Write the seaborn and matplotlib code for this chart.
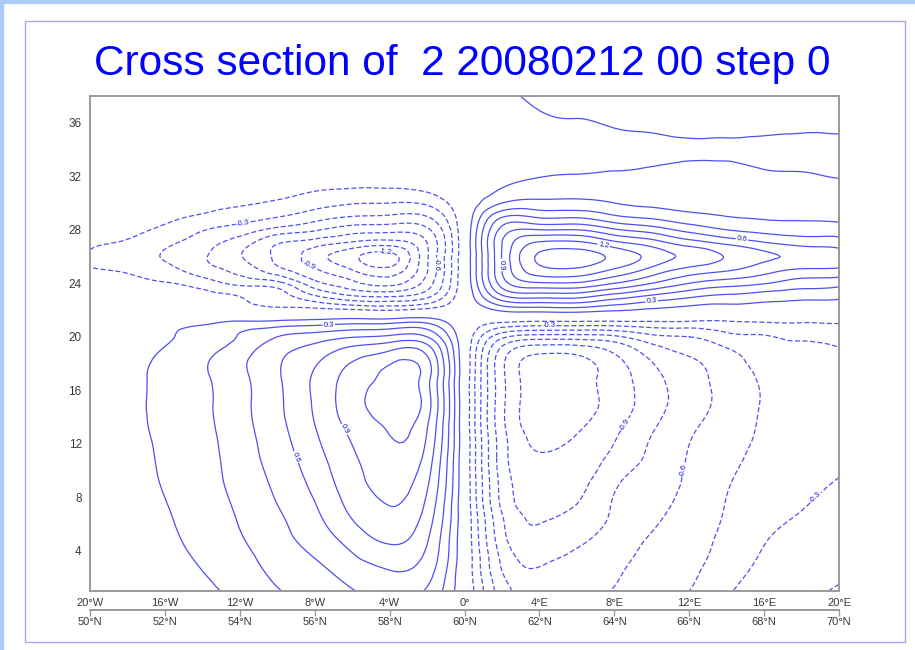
import numpy as np
import matplotlib
matplotlib.use("Agg")
import matplotlib.pyplot as plt
import matplotlib.tri as mtri
import seaborn as sns
from matplotlib.patches import Rectangle

# grid of the cross section: longitude along the section, model level upwards
lon = [-20, -18, -16, -14, -12, -10, -8, -6, -4, -2, 0, 2, 4, 6, 8, 10, 12, 14, 16, 18, 20]
level = [1, 3, 5, 7, 9, 11, 13, 15, 17, 19, 20, 21, 22, 23, 24, 25, 26, 27, 28, 29, 30, 31, 32, 34, 36, 38]

# field values, one row per level (bottom to top)
field = [
    [0.01, 0.03, 0.06, 0.12, 0.19, 0.29, 0.36, 0.44, 0.52, 0.43, 0.00, -0.53, -0.64, -0.64, -0.59, -0.50, -0.45, -0.32, -0.24, -0.18, -0.14],
    [0.02, 0.05, 0.09, 0.16, 0.24, 0.35, 0.43, 0.55, 0.63, 0.54, 0.00, -0.62, -0.76, -0.70, -0.64, -0.54, -0.49, -0.37, -0.28, -0.22, -0.18],
    [0.03, 0.07, 0.12, 0.20, 0.29, 0.40, 0.52, 0.67, 0.79, 0.62, 0.00, -0.70, -0.87, -0.79, -0.69, -0.59, -0.52, -0.41, -0.31, -0.26, -0.22],
    [0.04, 0.08, 0.14, 0.22, 0.32, 0.44, 0.58, 0.78, 0.89, 0.70, 0.00, -0.76, -0.93, -0.88, -0.73, -0.63, -0.55, -0.44, -0.35, -0.30, -0.26],
    [0.04, 0.09, 0.16, 0.24, 0.35, 0.48, 0.64, 0.84, 0.95, 0.77, 0.00, -0.80, -0.98, -0.95, -0.77, -0.68, -0.57, -0.46, -0.38, -0.33, -0.29],
    [0.05, 0.10, 0.17, 0.25, 0.37, 0.52, 0.69, 0.88, 1.00, 0.84, 0.00, -0.83, -1.04, -1.00, -0.86, -0.72, -0.59, -0.49, -0.41, -0.36, -0.33],
    [0.05, 0.11, 0.18, 0.26, 0.39, 0.55, 0.74, 0.93, 1.06, 0.90, 0.00, -0.85, -1.10, -1.06, -0.93, -0.76, -0.62, -0.52, -0.43, -0.38, -0.35],
    [0.05, 0.11, 0.19, 0.27, 0.40, 0.57, 0.77, 0.99, 1.14, 0.97, 0.00, -0.86, -1.13, -1.11, -0.99, -0.82, -0.67, -0.55, -0.44, -0.40, -0.37],
    [0.05, 0.11, 0.19, 0.28, 0.41, 0.58, 0.77, 0.96, 1.10, 0.96, 0.00, -0.86, -1.13, -1.11, -0.98, -0.80, -0.66, -0.54, -0.43, -0.39, -0.36],
    [0.05, 0.10, 0.16, 0.25, 0.38, 0.55, 0.66, 0.80, 0.89, 0.84, 0.00, -0.80, -1.00, -0.99, -0.87, -0.67, -0.57, -0.47, -0.36, -0.34, -0.31],
    [0.04, 0.08, 0.13, 0.20, 0.31, 0.45, 0.52, 0.59, 0.63, 0.60, 0.00, -0.56, -0.67, -0.67, -0.63, -0.49, -0.45, -0.34, -0.31, -0.28, -0.26],
    [0.02, 0.04, 0.08, 0.13, 0.20, 0.22, 0.25, 0.29, 0.30, 0.31, 0.00, -0.18, -0.22, -0.22, -0.22, -0.20, -0.20, -0.19, -0.17, -0.16, -0.15],
    [-0.03, -0.04, -0.05, -0.06, -0.08, -0.10, -0.10, -0.13, -0.16, -0.10, 0.00, 0.18, 0.21, 0.22, 0.17, 0.12, 0.08, 0.06, 0.05, 0.04, 0.04],
    [-0.05, -0.07, -0.09, -0.10, -0.15, -0.22, -0.42, -0.57, -0.60, -0.48, 0.00, 0.56, 0.64, 0.64, 0.52, 0.41, 0.32, 0.26, 0.22, 0.19, 0.18],
    [-0.08, -0.11, -0.14, -0.22, -0.34, -0.40, -0.70, -0.86, -0.95, -0.68, 0.00, 0.82, 1.03, 1.03, 0.90, 0.75, 0.60, 0.52, 0.46, 0.38, 0.35],
    [-0.14, -0.17, -0.25, -0.38, -0.50, -0.70, -0.88, -1.05, -1.15, -0.76, 0.00, 0.90, 1.30, 1.32, 1.18, 1.00, 0.85, 0.77, 0.66, 0.58, 0.57],
    [-0.16, -0.23, -0.31, -0.43, -0.59, -0.78, -0.98, -1.16, -1.26, -0.77, 0.00, 0.91, 1.37, 1.42, 1.31, 1.15, 1.01, 0.89, 0.78, 0.72, 0.67],
    [-0.13, -0.17, -0.27, -0.38, -0.53, -0.74, -0.83, -0.93, -0.98, -0.75, 0.00, 0.90, 1.23, 1.24, 1.10, 0.98, 0.83, 0.72, 0.62, 0.55, 0.53],
    [-0.09, -0.12, -0.18, -0.29, -0.37, -0.50, -0.58, -0.68, -0.70, -0.63, 0.00, 0.80, 0.90, 0.90, 0.77, 0.68, 0.55, 0.45, 0.40, 0.38, 0.37],
    [-0.06, -0.08, -0.12, -0.17, -0.23, -0.29, -0.38, -0.45, -0.47, -0.45, 0.00, 0.58, 0.57, 0.57, 0.47, 0.41, 0.34, 0.30, 0.28, 0.27, 0.26],
    [-0.04, -0.06, -0.08, -0.10, -0.13, -0.17, -0.24, -0.29, -0.30, -0.27, 0.00, 0.30, 0.34, 0.34, 0.30, 0.27, 0.25, 0.24, 0.23, 0.22, 0.21],
    [-0.03, -0.04, -0.05, -0.06, -0.08, -0.10, -0.14, -0.16, -0.16, -0.13, 0.00, 0.16, 0.22, 0.24, 0.22, 0.21, 0.20, 0.20, 0.19, 0.18, 0.17],
    [-0.02, -0.03, -0.03, -0.04, -0.05, -0.07, -0.09, -0.10, -0.10, -0.08, 0.00, 0.10, 0.145, 0.16, 0.165, 0.17, 0.17, 0.17, 0.16, 0.155, 0.148],
    [-0.01, -0.02, -0.02, -0.02, -0.03, -0.04, -0.05, -0.05, -0.05, -0.04, 0.01, 0.08, 0.12, 0.13, 0.135, 0.14, 0.145, 0.145, 0.14, 0.14, 0.14],
    [-0.01, -0.01, -0.01, -0.01, -0.02, -0.02, -0.03, -0.03, -0.03, -0.02, 0.02, 0.09, 0.14, 0.147, 0.155, 0.16, 0.165, 0.165, 0.165, 0.16, 0.16],
    [0.00, 0.00, -0.01, -0.01, -0.01, -0.01, -0.02, -0.02, -0.02, -0.01, 0.05, 0.12, 0.17, 0.18, 0.19, 0.19, 0.19, 0.19, 0.19, 0.18, 0.18],
]

neg_levels = [-1.35, -1.2, -1.05, -0.9, -0.75, -0.6, -0.45, -0.3, -0.15]
pos_levels = [0.15, 0.3, 0.45, 0.6, 0.75, 0.9, 1.05, 1.2, 1.35]
labelled_levels = [-1.2, -0.9, -0.6, -0.3, 0.3, 0.6, 0.9, 1.2]

lon_ticks = [-20, -16, -12, -8, -4, 0, 4, 8, 12, 16, 20]
lon_labels = ["20°W", "16°W", "12°W", "8°W", "4°W", "0°", "4°E", "8°E", "12°E", "16°E", "20°E"]
lat_ticks = [50, 52, 54, 56, 58, 60, 62, 64, 66, 68, 70]
lat_labels = ["50°N", "52°N", "54°N", "56°N", "58°N", "60°N", "62°N", "64°N", "66°N", "68°N", "70°N"]
level_ticks = [4, 8, 12, 16, 20, 24, 28, 32, 36]

title = "Cross section of  2 20080212 00 step 0"

sns.set_style("white")
plt.rcParams["font.family"] = ["Liberation Sans", "DejaVu Sans"]

line_colour = "#4f4ff2"
axis_grey = "#9a9a9a"
text_grey = "#3a3a3a"

fig = plt.figure(figsize=(9.15, 6.5), dpi=100)

# page decorations: light blue band top/left and thin frame
fig.patches.append(Rectangle((0, 0.9954), 1, 0.0046, transform=fig.transFigure,
                             color="#a9cdf6", zorder=0))
fig.patches.append(Rectangle((0, 0), 0.0033, 1, transform=fig.transFigure,
                             color="#a9cdf6", zorder=0))
fig.patches.append(Rectangle((0.0273, 0.0123), 0.9617, 0.9554, transform=fig.transFigure,
                             fill=False, edgecolor="#a8a8f0", linewidth=1.0, zorder=0))

ax = fig.add_axes([0.0984, 0.0908, 0.8186, 0.7615])

X, Y = np.meshgrid(lon, level)
Z = np.array(field)

# smooth isolines: let matplotlib refine the triangulated grid for drawing
triang = mtri.Triangulation(X.ravel(), Y.ravel())
interp = mtri.CubicTriInterpolator(triang, Z.ravel(), kind="min_E")
refiner = mtri.UniformTriRefiner(triang)
tri_fine, z_fine = refiner.refine_field(Z.ravel(), triinterpolator=interp, subdiv=3)

cs_neg = ax.tricontour(tri_fine, z_fine, levels=neg_levels, colors=line_colour,
                       linewidths=0.9, linestyles=[(0, (4, 2))])
cs_pos = ax.tricontour(tri_fine, z_fine, levels=pos_levels, colors=line_colour,
                       linewidths=0.9, linestyles="solid")

for cs in (cs_neg, cs_pos):
    lv = [l for l in labelled_levels if l in list(cs.levels)]
    ax.clabel(cs, levels=lv, fmt="%.1f", fontsize=5.5, inline=True,
              inline_spacing=1, colors="#1010d0")

ax.set_xlim(-20, 20)
ax.set_ylim(1, 38)
ax.set_xticks(lon_ticks, labels=lon_labels)
ax.set_yticks(level_ticks)
ax.tick_params(axis="both", direction="out", length=4, width=1, color=axis_grey,
               labelsize=8, labelcolor=text_grey, pad=2)
ax.tick_params(axis="x", pad=1)
ax.tick_params(axis="y", labelsize=8.5)
for side in ax.spines.values():
    side.set_color(axis_grey)
    side.set_linewidth(1.4)

# second row of labels: latitude along the section
sec = ax.secondary_xaxis(-0.038, functions=(lambda x: 60 + np.asarray(x) / 2,
                                            lambda x: (np.asarray(x) - 60) * 2))
sec.set_xticks(lat_ticks, labels=lat_labels)
sec.tick_params(direction="out", length=4, width=1, color=axis_grey,
                labelsize=8, labelcolor=text_grey, pad=1)
sec.spines["bottom"].set_color(axis_grey)
sec.spines["bottom"].set_linewidth(1.4)

fig.text(0.505, 0.8846, title, ha="center", va="baseline",
         fontsize=30.5, color="#0000ff")

fig.savefig("out.png", dpi=100)
